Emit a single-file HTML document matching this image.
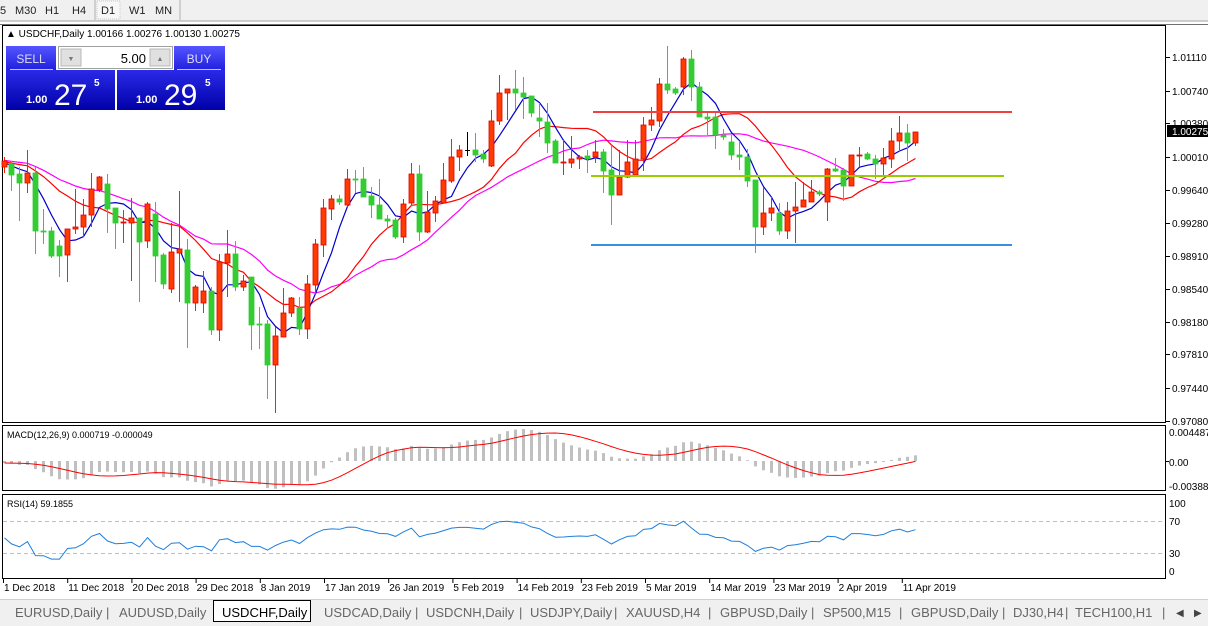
<!DOCTYPE html>
<html><head><meta charset="utf-8">
<style>
html,body{margin:0;padding:0;width:1208px;height:626px;overflow:hidden;background:#fff;font-family:"Liberation Sans",sans-serif;}
svg{position:absolute;left:0;top:0}
</style></head><body>
<svg id="s" width="1208" height="626" xmlns="http://www.w3.org/2000/svg" font-family="Liberation Sans, sans-serif">
<rect x="0" y="0" width="1208" height="21" fill="#f0f0f0"/>
<line x1="0" y1="21" x2="1208" y2="21" stroke="#a0a0a0"/>
<line x1="95" y1="0" x2="95" y2="20" stroke="#b0b0b0"/>
<line x1="180" y1="0" x2="180" y2="20" stroke="#b0b0b0"/>
<rect x="97" y="1" width="23" height="18" fill="#f7f7f7" stroke="#c8c8c8" stroke-dasharray="1,1"/>
<g font-size="11" fill="#222">
<text x="0" y="14">5</text><text x="15" y="14">M30</text><text x="45" y="14">H1</text><text x="72" y="14">H4</text>
<text x="101" y="14">D1</text><text x="129" y="14">W1</text><text x="155" y="14">MN</text>
</g>
<rect x="0" y="22" width="1208" height="3" fill="#fff"/>
<line x1="0" y1="24.5" x2="1208" y2="24.5" stroke="#707070"/>
<g fill="none" stroke="#000" stroke-width="1">
<rect x="2.5" y="25.5" width="1163" height="397"/>
<rect x="2.5" y="425.5" width="1163" height="65"/>
<rect x="2.5" y="494.5" width="1163" height="84"/>
</g>
<line x1="3" y1="521.5" x2="1165" y2="521.5" stroke="#c0c0c0" stroke-dasharray="4,3"/>
<line x1="3" y1="553.5" x2="1165" y2="553.5" stroke="#c0c0c0" stroke-dasharray="4,3"/>
<g id="axis" font-size="10" fill="#000"></g>
<g id="hist"></g>
<g id="lines"></g>
<g id="candles"></g>
<line x1="593" y1="112" x2="1012" y2="112" stroke="#f04040" stroke-width="2"/>
<line x1="591" y1="176" x2="1004" y2="176" stroke="#99cc00" stroke-width="2"/>
<line x1="591" y1="245" x2="1012" y2="245" stroke="#3a8ee0" stroke-width="2"/>
<text x="6" y="37" font-size="10" fill="#000">▲ USDCHF,Daily  1.00166 1.00276 1.00130 1.00275</text>
<text x="7" y="438" font-size="9" fill="#000">MACD(12,26,9) 0.000719 -0.000049</text>
<text x="7" y="507" font-size="9" fill="#000">RSI(14) 59.1855</text>
<defs>
<linearGradient id="lb" x1="0" y1="0" x2="0" y2="1"><stop offset="0" stop-color="#5555ff"/><stop offset="1" stop-color="#2020e0"/></linearGradient>
<linearGradient id="db" x1="0" y1="0" x2="0" y2="1"><stop offset="0" stop-color="#2a2ae8"/><stop offset="1" stop-color="#0000a8"/></linearGradient>
</defs>
<rect x="6" y="46" width="50" height="24" fill="url(#lb)"/>
<rect x="174" y="46" width="51" height="24" fill="url(#lb)"/>
<line x1="10" y1="69.5" x2="53" y2="69.5" stroke="#c0c0ff"/>
<line x1="177" y1="69.5" x2="221" y2="69.5" stroke="#c0c0ff"/>
<rect x="6" y="70" width="109" height="40" fill="url(#db)"/>
<rect x="117" y="70" width="108" height="40" fill="url(#db)"/>
<rect x="58.5" y="46.5" width="114" height="22" fill="#fff" stroke="#a0a0a0"/>
<rect x="61" y="49" width="20" height="17" fill="#e0e0e0" stroke="#b8b8b8"/>
<rect x="150" y="49" width="20" height="17" fill="#e0e0e0" stroke="#b8b8b8"/>
<text x="71" y="61" font-size="7" fill="#777" text-anchor="middle">▼</text>
<text x="160" y="61" font-size="7" fill="#777" text-anchor="middle">▲</text>
<text x="146" y="63" font-size="13" fill="#000" text-anchor="end">5.00</text>
<text x="31" y="63" font-size="12" fill="#dde" text-anchor="middle">SELL</text>
<text x="199" y="63" font-size="12" fill="#dde" text-anchor="middle">BUY</text>
<text x="26" y="103" font-size="11" font-weight="bold" fill="#fff">1.00</text>
<text x="54" y="105" font-size="30" fill="#fff">27</text>
<text x="94" y="86" font-size="10" font-weight="bold" fill="#fff">5</text>
<text x="136" y="103" font-size="11" font-weight="bold" fill="#fff">1.00</text>
<text x="164" y="105" font-size="30" fill="#fff">29</text>
<text x="205" y="86" font-size="10" font-weight="bold" fill="#fff">5</text>
<rect x="0" y="599" width="1208" height="27" fill="#f0f0f0"/>
<line x1="0" y1="599.5" x2="1208" y2="599.5" stroke="#d0d0d0"/>
<rect x="213.5" y="600.5" width="97" height="21" fill="#fff" stroke="#000"/>
<g font-size="13" fill="#666">
<text x="15" y="617">EURUSD,Daily</text><text x="106" y="617">|</text>
<text x="119" y="617">AUDUSD,Daily</text>
<text x="222" y="617" fill="#000">USDCHF,Daily</text>
<text x="324" y="617">USDCAD,Daily</text><text x="415" y="617">|</text>
<text x="426" y="617">USDCNH,Daily</text><text x="519" y="617">|</text>
<text x="530" y="617">USDJPY,Daily</text><text x="614" y="617">|</text>
<text x="626" y="617">XAUUSD,H4</text><text x="708" y="617">|</text>
<text x="720" y="617">GBPUSD,Daily</text><text x="811" y="617">|</text>
<text x="823" y="617">SP500,M15</text><text x="899" y="617">|</text>
<text x="911" y="617">GBPUSD,Daily</text><text x="1002" y="617">|</text>
<text x="1013" y="617">DJ30,H4</text><text x="1065" y="617">|</text>
<text x="1075" y="617">TECH100,H1</text><text x="1162" y="617">|</text>
<text x="1176" y="616" font-size="10" fill="#444">◀</text><text x="1194" y="616" font-size="10" fill="#444">▶</text>
</g>
</svg>
<script>
var C=[
[4,161,167,157,173,'r'],[11,164,175,161,191,'g'],[19,174,183,167,221,'g'],[27,173,183,150,193,'r'],[35,173,231,167,254,'g'],
[43,231,232,209,244,'g'],[51,231,256,227,258,'g'],[59,246,256,240,277,'g'],[67,229,255,229,282,'r'],[75,227,229,189,234,'r'],
[83,215,227,199,237,'r'],[91,189,215,173,227,'r'],[99,177,190,176,192,'r'],[107,184,209,174,233,'g'],[115,208,223,208,249,'g'],
[123,222,223,210,243,'r'],[131,218,223,198,281,'r'],[139,218,242,218,302,'g'],[147,204,241,202,248,'r'],[155,214,256,202,282,'g'],
[163,255,284,253,289,'g'],[171,252,289,223,293,'r'],[179,249,253,191,302,'r'],[187,250,303,239,348,'g'],[195,287,303,285,311,'r'],
[203,291,303,271,313,'r'],[211,291,330,287,335,'g'],[219,262,330,254,341,'r'],[227,254,263,230,297,'r'],[235,254,287,241,291,'g'],
[243,281,287,275,291,'r'],[251,277,325,277,350,'g'],[259,324,325,307,349,'g'],[267,324,365,320,399,'g'],[275,336,365,327,413,'r'],
[283,313,337,288,337,'r'],[291,298,313,297,317,'r'],[299,308,329,297,335,'g'],[307,284,329,275,339,'r'],[315,244,285,239,295,'r'],
[323,208,245,199,257,'r'],[331,199,209,195,220,'r'],[339,199,202,195,205,'g'],[347,179,205,169,207,'r'],[355,179,180,170,193,'g'],
[363,179,197,167,197,'g'],[371,196,205,187,218,'g'],[379,205,219,179,219,'g'],[387,219,221,215,229,'g'],[395,220,237,218,239,'g'],
[403,204,237,199,243,'r'],[411,174,203,163,206,'r'],[419,174,232,165,241,'g'],[427,212,232,191,233,'r'],[435,201,213,196,222,'r'],
[443,180,203,163,203,'r'],[451,157,181,139,183,'r'],[459,150,157,145,171,'r'],[467,150,150,132,156,'k'],[475,150,155,133,162,'g'],
[483,154,159,150,163,'g'],[491,121,166,110,167,'r'],[499,93,121,75,125,'r'],[507,89,93,89,120,'r'],[515,89,93,70,110,'g'],
[523,93,97,77,119,'g'],[531,96,113,96,117,'g'],[539,118,121,103,137,'g'],[547,122,143,103,153,'g'],[555,141,163,139,163,'g'],
[563,162,162,139,175,'r'],[571,159,163,136,168,'r'],[579,157,159,155,169,'r'],[587,156,159,150,173,'g'],[595,152,157,140,163,'r'],
[603,152,171,149,193,'g'],[611,170,195,145,225,'g'],[619,177,195,150,195,'r'],[627,162,177,140,178,'r'],[635,159,175,140,177,'r'],
[643,125,159,117,171,'r'],[651,120,125,107,131,'r'],[659,84,121,78,127,'r'],[667,84,90,46,94,'g'],[675,89,93,87,95,'g'],
[683,59,87,57,95,'r'],[691,59,87,50,101,'g'],[699,87,117,82,117,'g'],[707,117,119,113,135,'g'],[715,117,135,113,149,'g'],
[723,135,137,129,140,'g'],[731,142,155,135,160,'g'],[739,155,157,141,170,'g'],[747,157,181,149,187,'g'],[755,180,227,180,253,'g'],
[763,213,227,187,235,'r'],[771,208,213,197,221,'r'],[779,213,231,203,235,'g'],[787,211,231,202,239,'r'],[795,207,211,182,243,'r'],
[803,200,207,182,207,'r'],[811,192,202,180,202,'r'],[819,192,194,190,196,'g'],[827,169,202,168,221,'r'],[835,169,171,158,172,'g'],
[843,170,186,168,201,'g'],[851,155,186,155,186,'r'],[859,155,156,147,167,'r'],[867,154,159,152,160,'g'],[875,159,164,155,179,'g'],
[883,158,164,148,175,'r'],[891,141,159,128,168,'r'],[899,133,141,116,150,'r'],[907,133,143,124,161,'g'],[915,132,143,132,146,'r']];
var NS="http://www.w3.org/2000/svg";
function el(p,t,a){var e=document.createElementNS(NS,t);for(var k in a)e.setAttribute(k,a[k]);document.getElementById(p).appendChild(e);return e;}
C.forEach(function(c){
 var col=c[5]=='r'?'#ff2000':(c[5]=='g'?'#33cc33':'#000');
 el('candles','line',{x1:c[0]+.5,y1:c[3],x2:c[0]+.5,y2:c[4],stroke:col});
 if(c[5]=='k'){el('candles','line',{x1:c[0]-2,y1:c[1]+.5,x2:c[0]+3,y2:c[1]+.5,stroke:col});return;}
 var h=Math.max(1,c[2]-c[1]);
 el('candles','rect',{x:c[0]-2,y:c[1],width:5,height:h,fill:c[5]=='r'?'#ff3c00':'#33cc33',stroke:c[5]=='r'?'#e00000':'#33cc33','stroke-width':0.8});
});
var cl=C.map(function(c){return c[5]=='g'?c[2]:c[1];});
var pad=[];for(var i=0;i<40;i++)pad.push(150+i*0.35+(i%2?3:-3));
var all=pad.concat(cl),P=pad.length;
function sma(n,i){var s=0;for(var j=i-n+1;j<=i;j++)s+=all[j];return s/n;}
function drawMA(n,col){var pts=[];for(var i=0;i<cl.length;i++)pts.push((C[i][0]+.5)+','+sma(n,i+P).toFixed(1));
 el('lines','polyline',{points:pts.join(' '),fill:'none',stroke:col,'stroke-width':1.2});}
drawMA(21,'#ff00ff');drawMA(13,'#ff0000');drawMA(5,'#0000cc');
var e12=all[0],e26=all[0],k12=2/13,k26=2/27,m=[];
for(var i=0;i<all.length;i++){e12=all[i]*k12+e12*(1-k12);e26=all[i]*k26+e26*(1-k26);m.push(e12-e26);}
var sig=[];
for(var i=0;i<cl.length;i++){
 var mv=m[i+P],y=461+0.868*mv;
 el('hist','line',{x1:C[i][0]+.5,y1:461,x2:C[i][0]+.5,y2:Math.max(427,Math.min(490,y)),stroke:'#c0c0c0','stroke-width':3});
 var s=0;for(var j=0;j<9;j++)s+=m[i+P-j];sig.push((C[i][0]+.5)+','+(461+0.868*s/9).toFixed(1));
}
el('lines','polyline',{points:sig.join(' '),fill:'none',stroke:'#ff0000','stroke-width':1});
var ag=2,al=2.2,rp=[];
for(var i=1;i<all.length;i++){var d=all[i-1]-all[i];var g=d>0?d:0,l=d<0?-d:0;ag=(ag*13+g)/14;al=(al*13+l)/14;
 if(i>=P){var r=al==0?100:100-100/(1+ag/al);rp.push((C[i-P][0]+.5)+','+(521+(70-r)*0.8).toFixed(1));}}
el('lines','polyline',{points:rp.join(' '),fill:'none',stroke:'#1e7fdd','stroke-width':1});
var pl=[['1.01110',57],['1.00740',91],['1.00380',123],['1.00010',157],['0.99640',190],['0.99280',223],['0.98910',256],['0.98540',289],['0.98180',322],['0.97810',354],['0.97440',388],['0.97080',421]];
pl.forEach(function(p){el('axis','line',{x1:1166,y1:p[1]+.5,x2:1170,y2:p[1]+.5,stroke:'#000'});var t=el('axis','text',{x:1172,y:p[1]+4});t.textContent=p[0];});
el('axis','rect',{x:1167,y:125,width:41,height:12,fill:'#000'});
var t=el('axis','text',{x:1172,y:135,fill:'#fff'});t.textContent='1.00275';
[['0.004487',436],['0.00',466],['-0.003883',490],['100',507],['70',525],['30',557],['0',575]].forEach(function(p){var t=el('axis','text',{x:1169,y:p[1]});t.textContent=p[0];});
el('axis','line',{x1:1166,y1:461.5,x2:1169,y2:461.5,stroke:'#000'});
var dl=['1 Dec 2018','11 Dec 2018','20 Dec 2018','29 Dec 2018','8 Jan 2019','17 Jan 2019','26 Jan 2019','5 Feb 2019','14 Feb 2019','23 Feb 2019','5 Mar 2019','14 Mar 2019','23 Mar 2019','2 Apr 2019','11 Apr 2019'];
dl.forEach(function(d,i){var x=3+i*64.2;el('axis','line',{x1:x+.5,y1:579,x2:x+.5,y2:583,stroke:'#000'});var t=el('axis','text',{x:x+1,y:591});t.textContent=d;});
</script>
</body></html>
